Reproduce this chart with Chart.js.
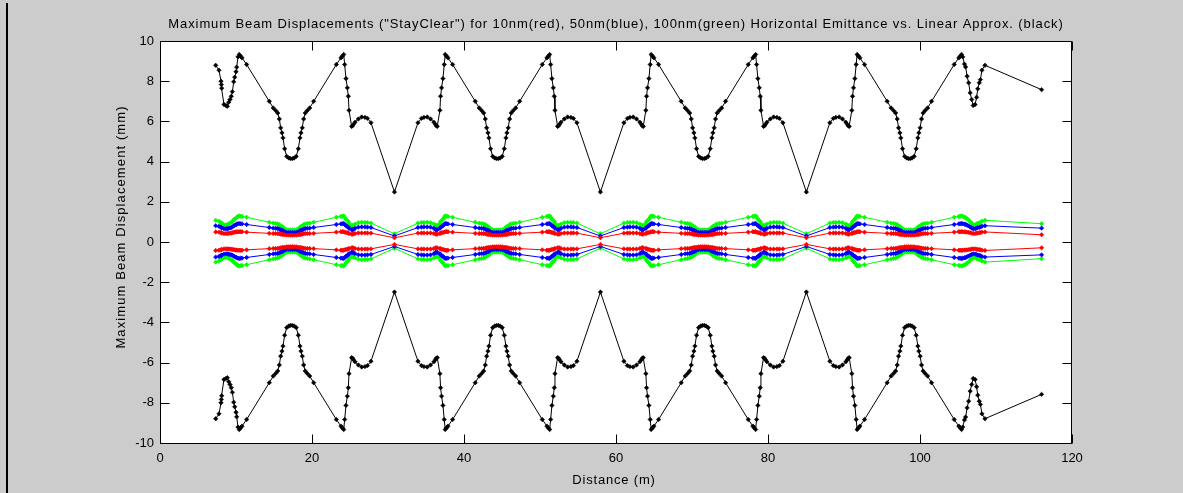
<!DOCTYPE html>
<html>
<head>
<meta charset="utf-8">
<title>Maximum Beam Displacements</title>
<script src="https://cdn.jsdelivr.net/npm/chart.js@4.4.1/dist/chart.umd.min.js"></script>
<style>
  html, body { margin: 0; padding: 0; background: #cccccc; }
  #wrap { position: relative; width: 1183px; height: 493px; }
  canvas { display: block; }
</style>
</head>
<body>
<div id="wrap"><canvas id="c" width="1183" height="493"></canvas></div>
<script>
// Distance along the lattice (m)
const distance = [
  7.33, 7.76, 8.03, 8.07, 8.12, 8.42, 8.68, 8.86, 9.04, 9.21, 9.38, 9.52, 9.70, 9.83, 10.00, 10.09, 10.26, 10.43,
  10.62, 10.79, 11.40, 14.38, 14.90, 15.22, 15.49, 15.70, 15.88, 16.05, 16.18, 16.40, 16.67, 16.95, 17.18, 17.42, 17.65, 17.93, 18.20, 18.42, 18.55, 18.72, 18.90, 19.11, 19.38, 19.70, 20.22, 23.20, 23.81, 23.98, 24.17,
  24.30, 24.47, 24.65, 24.78, 24.87, 25.22, 25.33, 25.43, 25.66, 26.10, 26.54, 26.97, 27.30, 27.76, 30.85, 33.94, 34.40, 34.73, 35.16, 35.60, 36.04, 36.27, 36.37, 36.48, 36.83, 36.92, 37.05, 37.23, 37.40, 37.53,
  37.72, 37.89, 38.50, 41.48, 42.00, 42.32, 42.59, 42.80, 42.98, 43.15, 43.28, 43.50, 43.77, 44.05, 44.28, 44.52, 44.75, 45.03, 45.30, 45.52, 45.65, 45.82, 46.00, 46.21, 46.48, 46.80, 47.32, 50.30, 50.91, 51.08, 51.27,
  51.40, 51.57, 51.75, 51.88, 51.97, 52.32, 52.43, 52.53, 52.76, 53.20, 53.64, 54.07, 54.40, 54.86, 57.95, 61.04, 61.50, 61.83, 62.26, 62.70, 63.14, 63.37, 63.47, 63.58, 63.93, 64.02, 64.15, 64.33, 64.50, 64.63,
  64.82, 64.99, 65.60, 68.58, 69.10, 69.42, 69.69, 69.90, 70.08, 70.25, 70.38, 70.60, 70.87, 71.15, 71.38, 71.62, 71.85, 72.13, 72.40, 72.62, 72.75, 72.92, 73.10, 73.31, 73.58, 73.90, 74.42, 77.40, 78.01, 78.18, 78.37,
  78.50, 78.67, 78.85, 78.98, 79.07, 79.42, 79.53, 79.63, 79.86, 80.30, 80.74, 81.17, 81.50, 81.96, 85.05, 88.14, 88.60, 88.93, 89.36, 89.80, 90.24, 90.47, 90.57, 90.68, 91.03, 91.12, 91.25, 91.43, 91.60, 91.73,
  91.92, 92.09, 92.70, 95.68, 96.20, 96.52, 96.79, 97.00, 97.18, 97.35, 97.48, 97.70, 97.97, 98.25, 98.48, 98.72, 98.95, 99.23, 99.50, 99.72, 99.85, 100.02, 100.20, 100.41, 100.68, 101.00, 101.52, 104.50, 105.11, 105.28, 105.47,
  105.62, 105.85, 106.00, 106.20, 106.40, 106.60, 106.80, 107.00, 107.25, 107.45, 107.60, 107.80, 107.95, 108.15, 108.55, 116.00
];

// Linear approximation of the stay-clear envelope (mm)
const linearUpper = [
  8.79, 8.55, 8.00, 7.83, 7.65, 6.84, 6.79, 6.75, 6.95, 7.09, 7.25, 7.48, 7.97, 8.20, 8.47, 8.70, 9.21, 9.33,
  9.24, 9.16, 8.83, 7.00, 6.67, 6.54, 6.42, 6.12, 5.68, 5.43, 5.18, 4.64, 4.26, 4.18, 4.15, 4.15, 4.18, 4.26, 4.64, 5.18, 5.43, 5.68, 6.12, 6.42, 6.54, 6.67, 7.00, 8.83, 9.16, 9.24, 9.33,
  8.83, 8.13, 7.67, 7.25, 6.55, 5.75, 5.78, 5.84, 5.96, 6.12, 6.22, 6.20, 6.15, 5.93, 2.49, 5.93, 6.15, 6.20, 6.22, 6.12, 5.96, 5.84, 5.78, 5.75, 6.55, 7.25, 7.67, 8.13, 8.83, 9.33,
  9.24, 9.16, 8.83, 7.00, 6.67, 6.54, 6.42, 6.12, 5.68, 5.43, 5.18, 4.64, 4.26, 4.18, 4.15, 4.15, 4.18, 4.26, 4.64, 5.18, 5.43, 5.68, 6.12, 6.42, 6.54, 6.67, 7.00, 8.83, 9.16, 9.24, 9.33,
  8.83, 8.13, 7.67, 7.25, 6.55, 5.75, 5.78, 5.84, 5.96, 6.12, 6.22, 6.20, 6.15, 5.93, 2.49, 5.93, 6.15, 6.20, 6.22, 6.12, 5.96, 5.84, 5.78, 5.75, 6.55, 7.25, 7.67, 8.13, 8.83, 9.33,
  9.24, 9.16, 8.83, 7.00, 6.67, 6.54, 6.42, 6.12, 5.68, 5.43, 5.18, 4.64, 4.26, 4.18, 4.15, 4.15, 4.18, 4.26, 4.64, 5.18, 5.43, 5.68, 6.12, 6.42, 6.54, 6.67, 7.00, 8.83, 9.16, 9.24, 9.33,
  8.83, 8.13, 7.67, 7.25, 6.55, 5.75, 5.78, 5.84, 5.96, 6.12, 6.22, 6.20, 6.15, 5.93, 2.49, 5.93, 6.15, 6.20, 6.22, 6.12, 5.96, 5.84, 5.78, 5.75, 6.55, 7.25, 7.67, 8.13, 8.83, 9.33,
  9.24, 9.16, 8.83, 7.00, 6.67, 6.54, 6.42, 6.12, 5.68, 5.43, 5.18, 4.64, 4.26, 4.18, 4.15, 4.15, 4.18, 4.26, 4.64, 5.18, 5.43, 5.68, 6.12, 6.42, 6.54, 6.67, 7.00, 8.83, 9.16, 9.24, 9.33,
  9.21, 8.85, 8.71, 8.25, 7.92, 7.42, 7.09, 6.79, 6.84, 7.20, 7.62, 7.92, 8.08, 8.55, 8.79, 7.58
];
const linearLower = [
  -8.79, -8.55, -8.00, -7.83, -7.65, -6.84, -6.79, -6.75, -6.95, -7.09, -7.25, -7.48, -7.97, -8.20, -8.47, -8.70, -9.21, -9.33,
  -9.24, -9.16, -8.83, -7.00, -6.67, -6.54, -6.42, -6.12, -5.68, -5.43, -5.18, -4.64, -4.26, -4.18, -4.15, -4.15, -4.18, -4.26, -4.64, -5.18, -5.43, -5.68, -6.12, -6.42, -6.54, -6.67, -7.00, -8.83, -9.16, -9.24, -9.33,
  -8.83, -8.13, -7.67, -7.25, -6.55, -5.75, -5.78, -5.84, -5.96, -6.12, -6.22, -6.20, -6.15, -5.93, -2.49, -5.93, -6.15, -6.20, -6.22, -6.12, -5.96, -5.84, -5.78, -5.75, -6.55, -7.25, -7.67, -8.13, -8.83, -9.33,
  -9.24, -9.16, -8.83, -7.00, -6.67, -6.54, -6.42, -6.12, -5.68, -5.43, -5.18, -4.64, -4.26, -4.18, -4.15, -4.15, -4.18, -4.26, -4.64, -5.18, -5.43, -5.68, -6.12, -6.42, -6.54, -6.67, -7.00, -8.83, -9.16, -9.24, -9.33,
  -8.83, -8.13, -7.67, -7.25, -6.55, -5.75, -5.78, -5.84, -5.96, -6.12, -6.22, -6.20, -6.15, -5.93, -2.49, -5.93, -6.15, -6.20, -6.22, -6.12, -5.96, -5.84, -5.78, -5.75, -6.55, -7.25, -7.67, -8.13, -8.83, -9.33,
  -9.24, -9.16, -8.83, -7.00, -6.67, -6.54, -6.42, -6.12, -5.68, -5.43, -5.18, -4.64, -4.26, -4.18, -4.15, -4.15, -4.18, -4.26, -4.64, -5.18, -5.43, -5.68, -6.12, -6.42, -6.54, -6.67, -7.00, -8.83, -9.16, -9.24, -9.33,
  -8.83, -8.13, -7.67, -7.25, -6.55, -5.75, -5.78, -5.84, -5.96, -6.12, -6.22, -6.20, -6.15, -5.93, -2.49, -5.93, -6.15, -6.20, -6.22, -6.12, -5.96, -5.84, -5.78, -5.75, -6.55, -7.25, -7.67, -8.13, -8.83, -9.33,
  -9.24, -9.16, -8.83, -7.00, -6.67, -6.54, -6.42, -6.12, -5.68, -5.43, -5.18, -4.64, -4.26, -4.18, -4.15, -4.15, -4.18, -4.26, -4.64, -5.18, -5.43, -5.68, -6.12, -6.42, -6.54, -6.67, -7.00, -8.83, -9.16, -9.24, -9.33,
  -9.21, -8.85, -8.71, -8.25, -7.92, -7.42, -7.09, -6.79, -6.84, -7.20, -7.62, -7.92, -8.08, -8.55, -8.79, -7.58
];

// 10 nm emittance (red)
const red10Upper = [
  0.50, 0.49, 0.47, 0.46, 0.45, 0.42, 0.42, 0.42, 0.43, 0.44, 0.45, 0.46, 0.48, 0.49, 0.50, 0.50, 0.51, 0.51,
  0.51, 0.51, 0.49, 0.43, 0.42, 0.42, 0.42, 0.41, 0.39, 0.38, 0.37, 0.36, 0.34, 0.34, 0.34, 0.34, 0.34, 0.34, 0.36, 0.37, 0.38, 0.39, 0.41, 0.42, 0.42, 0.42, 0.43, 0.49, 0.51, 0.51, 0.51,
  0.49, 0.47, 0.46, 0.44, 0.42, 0.39, 0.39, 0.40, 0.42, 0.45, 0.45, 0.45, 0.45, 0.44, 0.21, 0.44, 0.45, 0.45, 0.45, 0.45, 0.42, 0.40, 0.39, 0.39, 0.42, 0.44, 0.46, 0.47, 0.49, 0.51,
  0.51, 0.51, 0.49, 0.43, 0.42, 0.42, 0.42, 0.41, 0.39, 0.38, 0.37, 0.36, 0.34, 0.34, 0.34, 0.34, 0.34, 0.34, 0.36, 0.37, 0.38, 0.39, 0.41, 0.42, 0.42, 0.42, 0.43, 0.49, 0.51, 0.51, 0.51,
  0.49, 0.47, 0.46, 0.44, 0.42, 0.39, 0.39, 0.40, 0.42, 0.45, 0.45, 0.45, 0.45, 0.44, 0.21, 0.44, 0.45, 0.45, 0.45, 0.45, 0.42, 0.40, 0.39, 0.39, 0.42, 0.44, 0.46, 0.47, 0.49, 0.51,
  0.51, 0.51, 0.49, 0.43, 0.42, 0.42, 0.42, 0.41, 0.39, 0.38, 0.37, 0.36, 0.34, 0.34, 0.34, 0.34, 0.34, 0.34, 0.36, 0.37, 0.38, 0.39, 0.41, 0.42, 0.42, 0.42, 0.43, 0.49, 0.51, 0.51, 0.51,
  0.49, 0.47, 0.46, 0.44, 0.42, 0.39, 0.39, 0.40, 0.42, 0.45, 0.45, 0.45, 0.45, 0.44, 0.21, 0.44, 0.45, 0.45, 0.45, 0.45, 0.42, 0.40, 0.39, 0.39, 0.42, 0.44, 0.46, 0.47, 0.49, 0.51,
  0.51, 0.51, 0.49, 0.43, 0.42, 0.42, 0.42, 0.41, 0.39, 0.38, 0.37, 0.36, 0.34, 0.34, 0.34, 0.34, 0.34, 0.34, 0.36, 0.37, 0.38, 0.39, 0.41, 0.42, 0.42, 0.42, 0.43, 0.49, 0.51, 0.51, 0.51,
  0.51, 0.50, 0.50, 0.49, 0.48, 0.46, 0.44, 0.42, 0.42, 0.44, 0.45, 0.46, 0.47, 0.49, 0.50, 0.36
];
const red10Lower = [
  -0.42, -0.41, -0.39, -0.38, -0.37, -0.34, -0.34, -0.34, -0.35, -0.35, -0.36, -0.37, -0.38, -0.39, -0.40, -0.40, -0.41, -0.41,
  -0.41, -0.41, -0.39, -0.33, -0.32, -0.32, -0.32, -0.31, -0.29, -0.28, -0.27, -0.26, -0.24, -0.24, -0.24, -0.24, -0.24, -0.24, -0.26, -0.27, -0.28, -0.29, -0.31, -0.32, -0.32, -0.32, -0.33, -0.39, -0.41, -0.41, -0.41,
  -0.39, -0.37, -0.36, -0.34, -0.32, -0.29, -0.29, -0.30, -0.32, -0.35, -0.35, -0.35, -0.35, -0.34, -0.12, -0.34, -0.35, -0.35, -0.35, -0.35, -0.32, -0.30, -0.29, -0.29, -0.32, -0.34, -0.36, -0.37, -0.39, -0.41,
  -0.41, -0.41, -0.39, -0.33, -0.32, -0.32, -0.32, -0.31, -0.29, -0.28, -0.27, -0.26, -0.24, -0.24, -0.24, -0.24, -0.24, -0.24, -0.26, -0.27, -0.28, -0.29, -0.31, -0.32, -0.32, -0.32, -0.33, -0.39, -0.41, -0.41, -0.41,
  -0.39, -0.37, -0.36, -0.34, -0.32, -0.29, -0.29, -0.30, -0.32, -0.35, -0.35, -0.35, -0.35, -0.34, -0.12, -0.34, -0.35, -0.35, -0.35, -0.35, -0.32, -0.30, -0.29, -0.29, -0.32, -0.34, -0.36, -0.37, -0.39, -0.41,
  -0.41, -0.41, -0.39, -0.33, -0.32, -0.32, -0.32, -0.31, -0.29, -0.28, -0.27, -0.26, -0.24, -0.24, -0.24, -0.24, -0.24, -0.24, -0.26, -0.27, -0.28, -0.29, -0.31, -0.32, -0.32, -0.32, -0.33, -0.39, -0.41, -0.41, -0.41,
  -0.39, -0.37, -0.36, -0.34, -0.32, -0.29, -0.29, -0.30, -0.32, -0.35, -0.35, -0.35, -0.35, -0.34, -0.12, -0.34, -0.35, -0.35, -0.35, -0.35, -0.32, -0.30, -0.29, -0.29, -0.32, -0.34, -0.36, -0.37, -0.39, -0.41,
  -0.41, -0.41, -0.39, -0.33, -0.32, -0.32, -0.32, -0.31, -0.29, -0.28, -0.27, -0.26, -0.24, -0.24, -0.24, -0.24, -0.24, -0.24, -0.26, -0.27, -0.28, -0.29, -0.31, -0.32, -0.32, -0.32, -0.33, -0.39, -0.41, -0.41, -0.41,
  -0.41, -0.40, -0.40, -0.39, -0.38, -0.37, -0.35, -0.34, -0.34, -0.36, -0.37, -0.38, -0.39, -0.41, -0.42, -0.29
];

// 50 nm emittance (blue)
const blue50Upper = [
  0.81, 0.78, 0.74, 0.72, 0.71, 0.66, 0.66, 0.66, 0.68, 0.70, 0.72, 0.75, 0.80, 0.83, 0.86, 0.88, 0.91, 0.92,
  0.91, 0.90, 0.87, 0.72, 0.69, 0.68, 0.67, 0.64, 0.60, 0.58, 0.56, 0.51, 0.48, 0.47, 0.47, 0.47, 0.47, 0.48, 0.51, 0.56, 0.58, 0.60, 0.64, 0.67, 0.68, 0.69, 0.72, 0.87, 0.90, 0.91, 0.92,
  0.87, 0.81, 0.77, 0.74, 0.68, 0.61, 0.61, 0.62, 0.68, 0.74, 0.75, 0.75, 0.74, 0.72, 0.30, 0.72, 0.74, 0.75, 0.75, 0.74, 0.68, 0.62, 0.61, 0.61, 0.68, 0.74, 0.77, 0.81, 0.87, 0.92,
  0.91, 0.90, 0.87, 0.72, 0.69, 0.68, 0.67, 0.64, 0.60, 0.58, 0.56, 0.51, 0.48, 0.47, 0.47, 0.47, 0.47, 0.48, 0.51, 0.56, 0.58, 0.60, 0.64, 0.67, 0.68, 0.69, 0.72, 0.87, 0.90, 0.91, 0.92,
  0.87, 0.81, 0.77, 0.74, 0.68, 0.61, 0.61, 0.62, 0.68, 0.74, 0.75, 0.75, 0.74, 0.72, 0.30, 0.72, 0.74, 0.75, 0.75, 0.74, 0.68, 0.62, 0.61, 0.61, 0.68, 0.74, 0.77, 0.81, 0.87, 0.92,
  0.91, 0.90, 0.87, 0.72, 0.69, 0.68, 0.67, 0.64, 0.60, 0.58, 0.56, 0.51, 0.48, 0.47, 0.47, 0.47, 0.47, 0.48, 0.51, 0.56, 0.58, 0.60, 0.64, 0.67, 0.68, 0.69, 0.72, 0.87, 0.90, 0.91, 0.92,
  0.87, 0.81, 0.77, 0.74, 0.68, 0.61, 0.61, 0.62, 0.68, 0.74, 0.75, 0.75, 0.74, 0.72, 0.30, 0.72, 0.74, 0.75, 0.75, 0.74, 0.68, 0.62, 0.61, 0.61, 0.68, 0.74, 0.77, 0.81, 0.87, 0.92,
  0.91, 0.90, 0.87, 0.72, 0.69, 0.68, 0.67, 0.64, 0.60, 0.58, 0.56, 0.51, 0.48, 0.47, 0.47, 0.47, 0.47, 0.48, 0.51, 0.56, 0.58, 0.60, 0.64, 0.67, 0.68, 0.69, 0.72, 0.87, 0.90, 0.91, 0.92,
  0.91, 0.88, 0.88, 0.83, 0.80, 0.75, 0.70, 0.66, 0.66, 0.69, 0.72, 0.73, 0.75, 0.78, 0.81, 0.69
];
const blue50Lower = [
  -0.75, -0.72, -0.68, -0.66, -0.65, -0.60, -0.59, -0.59, -0.61, -0.62, -0.64, -0.66, -0.70, -0.73, -0.76, -0.78, -0.81, -0.82,
  -0.81, -0.80, -0.77, -0.62, -0.59, -0.58, -0.57, -0.54, -0.50, -0.48, -0.46, -0.41, -0.38, -0.37, -0.37, -0.37, -0.37, -0.38, -0.41, -0.46, -0.48, -0.50, -0.54, -0.57, -0.58, -0.59, -0.62, -0.77, -0.80, -0.81, -0.82,
  -0.77, -0.71, -0.67, -0.64, -0.58, -0.51, -0.51, -0.52, -0.58, -0.64, -0.65, -0.65, -0.64, -0.62, -0.22, -0.62, -0.64, -0.65, -0.65, -0.64, -0.58, -0.52, -0.51, -0.51, -0.58, -0.64, -0.67, -0.71, -0.77, -0.82,
  -0.81, -0.80, -0.77, -0.62, -0.59, -0.58, -0.57, -0.54, -0.50, -0.48, -0.46, -0.41, -0.38, -0.37, -0.37, -0.37, -0.37, -0.38, -0.41, -0.46, -0.48, -0.50, -0.54, -0.57, -0.58, -0.59, -0.62, -0.77, -0.80, -0.81, -0.82,
  -0.77, -0.71, -0.67, -0.64, -0.58, -0.51, -0.51, -0.52, -0.58, -0.64, -0.65, -0.65, -0.64, -0.62, -0.22, -0.62, -0.64, -0.65, -0.65, -0.64, -0.58, -0.52, -0.51, -0.51, -0.58, -0.64, -0.67, -0.71, -0.77, -0.82,
  -0.81, -0.80, -0.77, -0.62, -0.59, -0.58, -0.57, -0.54, -0.50, -0.48, -0.46, -0.41, -0.38, -0.37, -0.37, -0.37, -0.37, -0.38, -0.41, -0.46, -0.48, -0.50, -0.54, -0.57, -0.58, -0.59, -0.62, -0.77, -0.80, -0.81, -0.82,
  -0.77, -0.71, -0.67, -0.64, -0.58, -0.51, -0.51, -0.52, -0.58, -0.64, -0.65, -0.65, -0.64, -0.62, -0.22, -0.62, -0.64, -0.65, -0.65, -0.64, -0.58, -0.52, -0.51, -0.51, -0.58, -0.64, -0.67, -0.71, -0.77, -0.82,
  -0.81, -0.80, -0.77, -0.62, -0.59, -0.58, -0.57, -0.54, -0.50, -0.48, -0.46, -0.41, -0.38, -0.37, -0.37, -0.37, -0.37, -0.38, -0.41, -0.46, -0.48, -0.50, -0.54, -0.57, -0.58, -0.59, -0.62, -0.77, -0.80, -0.81, -0.82,
  -0.81, -0.78, -0.78, -0.73, -0.70, -0.66, -0.62, -0.59, -0.60, -0.63, -0.65, -0.67, -0.68, -0.72, -0.75, -0.64
];

// 100 nm emittance (green)
const green100Upper = [
  1.08, 1.03, 0.96, 0.94, 0.92, 0.85, 0.85, 0.86, 0.90, 0.94, 0.98, 1.02, 1.10, 1.14, 1.19, 1.22, 1.28, 1.30,
  1.28, 1.27, 1.23, 0.98, 0.94, 0.92, 0.90, 0.86, 0.80, 0.77, 0.73, 0.66, 0.61, 0.60, 0.60, 0.60, 0.60, 0.61, 0.66, 0.73, 0.77, 0.80, 0.86, 0.90, 0.92, 0.94, 0.98, 1.23, 1.27, 1.28, 1.30,
  1.23, 1.13, 1.07, 1.01, 0.92, 0.81, 0.81, 0.82, 0.89, 0.96, 0.98, 0.97, 0.97, 0.94, 0.41, 0.94, 0.97, 0.97, 0.98, 0.96, 0.89, 0.82, 0.81, 0.81, 0.92, 1.01, 1.07, 1.13, 1.23, 1.30,
  1.28, 1.27, 1.23, 0.98, 0.94, 0.92, 0.90, 0.86, 0.80, 0.77, 0.73, 0.66, 0.61, 0.60, 0.60, 0.60, 0.60, 0.61, 0.66, 0.73, 0.77, 0.80, 0.86, 0.90, 0.92, 0.94, 0.98, 1.23, 1.27, 1.28, 1.30,
  1.23, 1.13, 1.07, 1.01, 0.92, 0.81, 0.81, 0.82, 0.89, 0.96, 0.98, 0.97, 0.97, 0.94, 0.41, 0.94, 0.97, 0.97, 0.98, 0.96, 0.89, 0.82, 0.81, 0.81, 0.92, 1.01, 1.07, 1.13, 1.23, 1.30,
  1.28, 1.27, 1.23, 0.98, 0.94, 0.92, 0.90, 0.86, 0.80, 0.77, 0.73, 0.66, 0.61, 0.60, 0.60, 0.60, 0.60, 0.61, 0.66, 0.73, 0.77, 0.80, 0.86, 0.90, 0.92, 0.94, 0.98, 1.23, 1.27, 1.28, 1.30,
  1.23, 1.13, 1.07, 1.01, 0.92, 0.81, 0.81, 0.82, 0.89, 0.96, 0.98, 0.97, 0.97, 0.94, 0.41, 0.94, 0.97, 0.97, 0.98, 0.96, 0.89, 0.82, 0.81, 0.81, 0.92, 1.01, 1.07, 1.13, 1.23, 1.30,
  1.28, 1.27, 1.23, 0.98, 0.94, 0.92, 0.90, 0.86, 0.80, 0.77, 0.73, 0.66, 0.61, 0.60, 0.60, 0.60, 0.60, 0.61, 0.66, 0.73, 0.77, 0.80, 0.86, 0.90, 0.92, 0.94, 0.98, 1.23, 1.27, 1.28, 1.30,
  1.28, 1.23, 1.22, 1.15, 1.09, 1.01, 0.94, 0.85, 0.85, 0.90, 0.93, 0.95, 0.97, 1.03, 1.08, 0.91
];
const green100Lower = [
  -1.00, -0.95, -0.88, -0.86, -0.84, -0.77, -0.77, -0.77, -0.80, -0.84, -0.88, -0.92, -1.00, -1.04, -1.09, -1.12, -1.18, -1.20,
  -1.18, -1.17, -1.13, -0.88, -0.84, -0.82, -0.80, -0.76, -0.70, -0.67, -0.63, -0.56, -0.51, -0.50, -0.50, -0.50, -0.50, -0.51, -0.56, -0.63, -0.67, -0.70, -0.76, -0.80, -0.82, -0.84, -0.88, -1.13, -1.17, -1.18, -1.20,
  -1.13, -1.03, -0.97, -0.91, -0.82, -0.71, -0.71, -0.72, -0.79, -0.86, -0.88, -0.87, -0.87, -0.84, -0.31, -0.84, -0.87, -0.87, -0.88, -0.86, -0.79, -0.72, -0.71, -0.71, -0.82, -0.91, -0.97, -1.03, -1.13, -1.20,
  -1.18, -1.17, -1.13, -0.88, -0.84, -0.82, -0.80, -0.76, -0.70, -0.67, -0.63, -0.56, -0.51, -0.50, -0.50, -0.50, -0.50, -0.51, -0.56, -0.63, -0.67, -0.70, -0.76, -0.80, -0.82, -0.84, -0.88, -1.13, -1.17, -1.18, -1.20,
  -1.13, -1.03, -0.97, -0.91, -0.82, -0.71, -0.71, -0.72, -0.79, -0.86, -0.88, -0.87, -0.87, -0.84, -0.31, -0.84, -0.87, -0.87, -0.88, -0.86, -0.79, -0.72, -0.71, -0.71, -0.82, -0.91, -0.97, -1.03, -1.13, -1.20,
  -1.18, -1.17, -1.13, -0.88, -0.84, -0.82, -0.80, -0.76, -0.70, -0.67, -0.63, -0.56, -0.51, -0.50, -0.50, -0.50, -0.50, -0.51, -0.56, -0.63, -0.67, -0.70, -0.76, -0.80, -0.82, -0.84, -0.88, -1.13, -1.17, -1.18, -1.20,
  -1.13, -1.03, -0.97, -0.91, -0.82, -0.71, -0.71, -0.72, -0.79, -0.86, -0.88, -0.87, -0.87, -0.84, -0.31, -0.84, -0.87, -0.87, -0.88, -0.86, -0.79, -0.72, -0.71, -0.71, -0.82, -0.91, -0.97, -1.03, -1.13, -1.20,
  -1.18, -1.17, -1.13, -0.88, -0.84, -0.82, -0.80, -0.76, -0.70, -0.67, -0.63, -0.56, -0.51, -0.50, -0.50, -0.50, -0.50, -0.51, -0.56, -0.63, -0.67, -0.70, -0.76, -0.80, -0.82, -0.84, -0.88, -1.13, -1.17, -1.18, -1.20,
  -1.18, -1.13, -1.12, -1.05, -0.99, -0.91, -0.84, -0.77, -0.77, -0.82, -0.85, -0.87, -0.89, -0.95, -1.00, -0.83
];

// Axis ticks
const xTicks = [0, 20, 40, 60, 80, 100, 120];
const yTicks = [-10, -8, -6, -4, -2, 0, 2, 4, 6, 8, 10];

const FONT = "'Liberation Sans', Arial, Helvetica, sans-serif";
const titleText = 'Maximum Beam Displacements ("StayClear") for 10nm(red), 50nm(blue), 100nm(green) Horizontal Emittance vs. Linear Approx. (black)';
const xLabel = 'Distance (m)';
const yLabel = 'Maximum Beam Displacement (mm)';

const pairs = ys => distance.map((x, i) => ({ x: x, y: ys[i] }));

function series(label, ys, color) {
  return {
    label: label,
    data: pairs(ys),
    borderColor: color,
    backgroundColor: color,
    borderWidth: 1,
    pointStyle: 'rectRot',
    pointRadius: 2.2,
    pointBorderWidth: 0.6,
    pointBorderColor: color,
    pointBackgroundColor: color,
    tension: 0,
    fill: false
  };
}

function spacedText(ctx, text, x, y, spacing) {
  if ('letterSpacing' in ctx) {
    ctx.letterSpacing = spacing + 'px';
    ctx.fillText(text, x, y);
    ctx.letterSpacing = '0px';
  } else {
    ctx.fillText(text, x, y);
  }
}

// Figure background, white axes area, box frame, inward ticks, title and axis labels
const frame = {
  id: 'frame',
  beforeDraw(chart) {
    const ctx = chart.ctx;
    const a = chart.chartArea;
    ctx.save();
    ctx.fillStyle = '#cccccc';
    ctx.fillRect(0, 0, chart.width, chart.height);
    ctx.fillStyle = '#000000';
    ctx.fillRect(6, 3, 2, chart.height - 3);
    ctx.fillStyle = '#ffffff';
    ctx.fillRect(a.left, a.top, a.right - a.left, a.bottom - a.top);
    ctx.restore();
  },
  afterDraw(chart) {
    const ctx = chart.ctx;
    const a = chart.chartArea;
    const xs = chart.scales.x, ys = chart.scales.y;
    const L = Math.round(a.left) + 0.5, R = Math.round(a.right) - 0.5;
    const T = Math.round(a.top) + 0.5, B = Math.round(a.bottom) + 0.5;
    const len = 9;
    ctx.save();
    ctx.strokeStyle = '#000000';
    ctx.lineWidth = 1;
    ctx.beginPath();
    ctx.rect(L, T, R - L, B - T);
    xTicks.forEach(v => {
      const px = Math.round(xs.getPixelForValue(v)) + 0.5;
      ctx.moveTo(px, B); ctx.lineTo(px, B - len);
      ctx.moveTo(px, T); ctx.lineTo(px, T + len);
    });
    yTicks.forEach(v => {
      const py = Math.round(ys.getPixelForValue(v)) + 0.5;
      ctx.moveTo(L, py); ctx.lineTo(L + len, py);
      ctx.moveTo(R, py); ctx.lineTo(R - len, py);
    });
    ctx.stroke();

    ctx.fillStyle = '#000000';
    ctx.font = '13px ' + FONT;
    ctx.textAlign = 'center';
    ctx.textBaseline = 'alphabetic';
    const cx = (a.left + a.right) / 2;
    spacedText(ctx, titleText, cx, 28, 0.9);
    spacedText(ctx, xLabel, cx - 2, 484, 0.8);
    ctx.translate(125, 227);
    ctx.rotate(-Math.PI / 2);
    spacedText(ctx, yLabel, 0, 0, 1.1);
    ctx.restore();
  }
};

new Chart(document.getElementById('c'), {
  type: 'line',
  data: {
    datasets: [
      series('10nm upper', red10Upper, '#ff0000'),
      series('10nm lower', red10Lower, '#ff0000'),
      series('50nm upper', blue50Upper, '#0000ff'),
      series('50nm lower', blue50Lower, '#0000ff'),
      series('100nm upper', green100Upper, '#00ff00'),
      series('100nm lower', green100Lower, '#00ff00'),
      series('Linear approx. upper', linearUpper, '#000000'),
      series('Linear approx. lower', linearLower, '#000000')
    ]
  },
  options: {
    responsive: false,
    animation: false,
    devicePixelRatio: 1,
    layout: { padding: { left: 10, right: 111, top: 41, bottom: 0 } },
    plugins: {
      legend: { display: false },
      tooltip: { enabled: false },
      title: { display: false }
    },
    scales: {
      x: {
        type: 'linear',
        min: 0, max: 120,
        afterFit(s) { s.height = 50; },
        afterBuildTicks(s) { s.ticks = xTicks.map(v => ({ value: v })); },
        grid: { display: false, drawTicks: false },
        border: { display: false },
        ticks: { color: '#000000', padding: 8, maxRotation: 0, font: { family: FONT, size: 13 } }
      },
      y: {
        type: 'linear',
        min: -10, max: 10,
        afterFit(s) { s.width = 150; },
        afterBuildTicks(s) { s.ticks = yTicks.map(v => ({ value: v })); },
        grid: { display: false, drawTicks: false },
        border: { display: false },
        ticks: { color: '#000000', padding: 6, font: { family: FONT, size: 13 } }
      }
    }
  },
  plugins: [frame]
});
</script>
</body>
</html>
